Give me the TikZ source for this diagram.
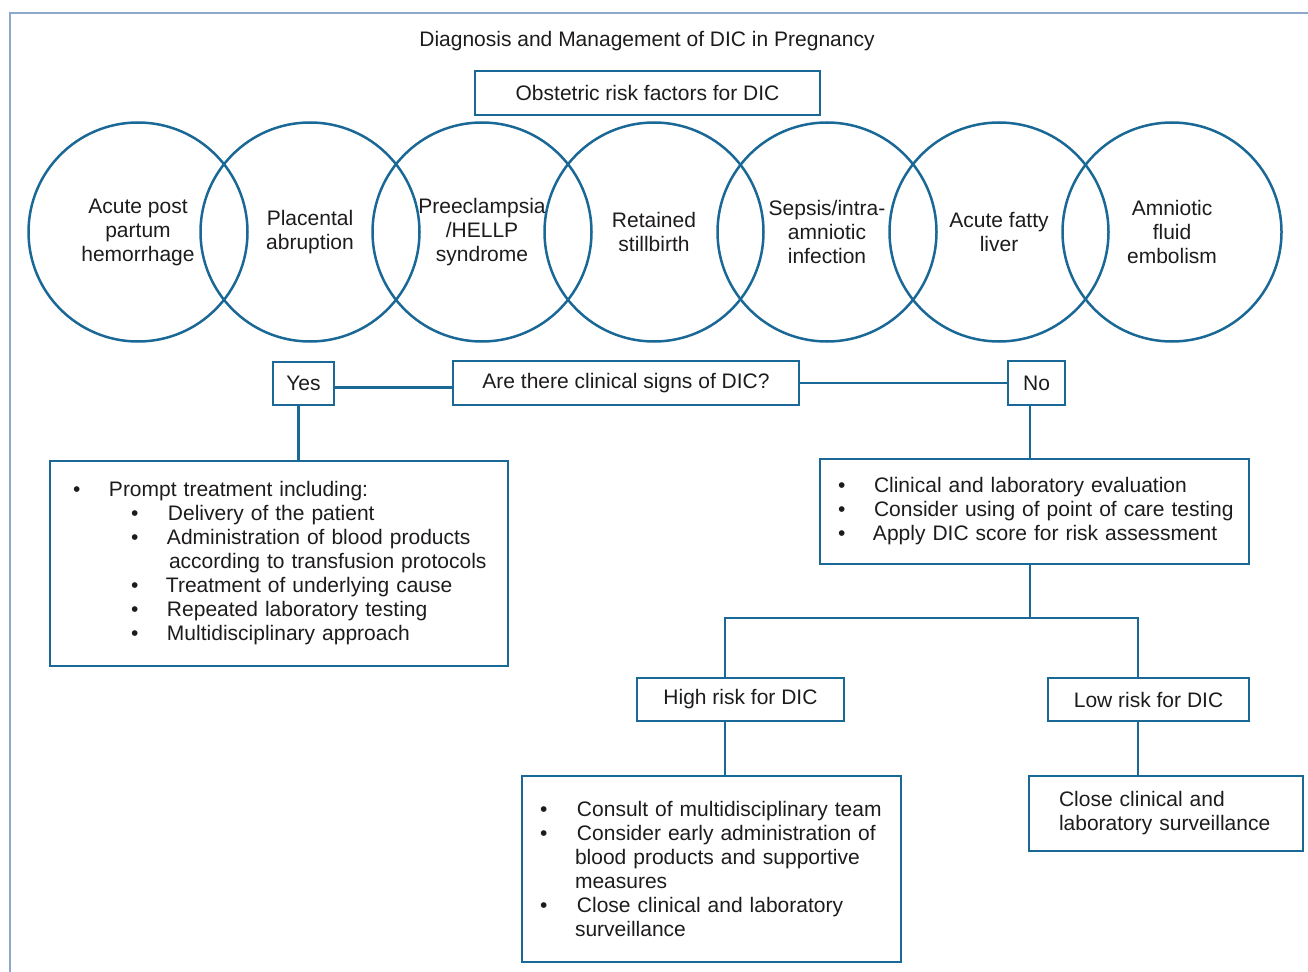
\documentclass[tikz,border=0pt]{standalone}
\usepackage{fontspec}
\setmainfont{Liberation Sans}
\definecolor{boxblue}{HTML}{1A6896}
\definecolor{framegray}{HTML}{8CA8CB}
\definecolor{ink}{HTML}{1E1B1C}
% bullet line: bullet offset, text offset, text
\newcommand\bitem[3]{\hspace*{#1pt}\rlap{\textbullet}\hspace*{\dimexpr#2pt-#1pt\relax}#3}
\newcommand\cont[2]{\hspace*{#1pt}#2}
\begin{document}
\begin{tikzpicture}[x=1pt,y=-1pt,
  every node/.style={text=ink, font=\fontsize{21}{24}\selectfont},
  box/.style={draw=boxblue, line width=2.7pt, inner sep=0pt, outer sep=0pt, anchor=north west},
  listbox/.style={box, align=left},
  risk/.style={draw=boxblue, line width=2.5pt, circle, minimum size=219pt, inner sep=0pt, align=center},
  link/.style={draw=boxblue, line width=2.7pt}]
\useasboundingbox (0,0) rectangle (1308,971);

% outer frame
\draw[framegray, line width=2.5pt] (10,975) -- (10,13) -- (1312,13);

\node (title) at (647,41) {Diagnosis and Management of DIC in Pregnancy};
\node[box, minimum width=345pt, minimum height=44pt] (risks) at (475,71) {Obstetric risk factors for DIC};

% risk factor circles
\node[risk] (c1) at (138,232) {Acute post\\partum\\hemorrhage};
\node[risk] (c2) at (310,232) {Placental\\abruption};
\node[risk] (c3) at (482,232) {Preeclampsia\\/HELLP\\syndrome};
\node[risk] (c4) at (654,232) {Retained\\stillbirth};
\node[risk] (c5) at (827,232) {Sepsis/intra-\\amniotic\\infection};
\node[risk] (c6) at (999,232) {Acute fatty\\liver};
\node[risk] (c7) at (1172,232) {Amniotic\\fluid\\embolism};

% decision row
\node[box, minimum width=61pt, minimum height=43pt] (yes) at (273,362) {Yes};
\node[box, minimum width=346pt, minimum height=44pt] (are) at (453,361) {Are there clinical signs of DIC?};
\node[box, minimum width=57pt, minimum height=44pt] (no) at (1008,361) {No};

% treatment branch
\node[listbox, text width=458pt, minimum height=205pt] (prompt) at (50,461) {%
\bitem{23}{59}{Prompt treatment including:}\\
\bitem{81}{118}{Delivery of the patient}\\
\bitem{81}{117}{Administration of blood products}\\
\cont{119}{according to transfusion protocols}\\
\bitem{81}{116}{Treatment of underlying cause}\\
\bitem{81}{117}{Repeated laboratory testing}\\
\bitem{81}{117}{Multidisciplinary approach}};

% evaluation branch
\node[listbox, text width=429pt, minimum height=105pt] (clin) at (820,459) {%
\bitem{18}{54}{Clinical and laboratory evaluation}\\
\bitem{18}{54}{Consider using of point of care testing}\\
\bitem{18}{53}{Apply DIC score for risk assessment}};

\node[box, minimum width=207pt, minimum height=43pt] (high) at (637,678) {High risk for DIC};
\node[box, minimum width=201pt, minimum height=43pt] (low) at (1048,678) {Low risk for DIC};

\node[listbox, text width=379pt, minimum height=186pt] (consult) at (522,776) {%
\bitem{18}{55}{Consult of multidisciplinary team}\\
\bitem{18}{55}{Consider early administration of}\\
\cont{53}{blood products and supportive}\\
\cont{53}{measures}\\
\bitem{18}{55}{Close clinical and laboratory}\\
\cont{53}{surveillance}};

\node[listbox, text width=274pt, minimum height=75pt] (close) at (1029,776) {%
\cont{30}{Close clinical and}\\
\cont{30}{laboratory surveillance}};

% connectors
\coordinate (sp) at (1030,618);
\coordinate (hl) at (725,618);
\coordinate (ll) at (1138,618);
\draw[link] ([yshift=-4pt]yes.east) -- ([yshift=-4pt]yes.east -| are.west);
\draw[link] (are.east) -- (are.east -| no.west);
\draw[link] ([xshift=-5pt]yes.south) -- ([xshift=-5pt]yes.south |- prompt.north);
\draw[link] ([xshift=-6.5pt]no.south) -- ([xshift=-6.5pt]no.south |- clin.north);
\draw[link] (sp |- clin.south) -- (sp);
\draw[link] (hl |- high.north) -- (hl) -- (ll) -- (ll |- low.north);
\draw[link] (hl |- high.south) -- (hl |- consult.north);
\draw[link] (ll |- low.south) -- (ll |- close.north);
\end{tikzpicture}
\end{document}
